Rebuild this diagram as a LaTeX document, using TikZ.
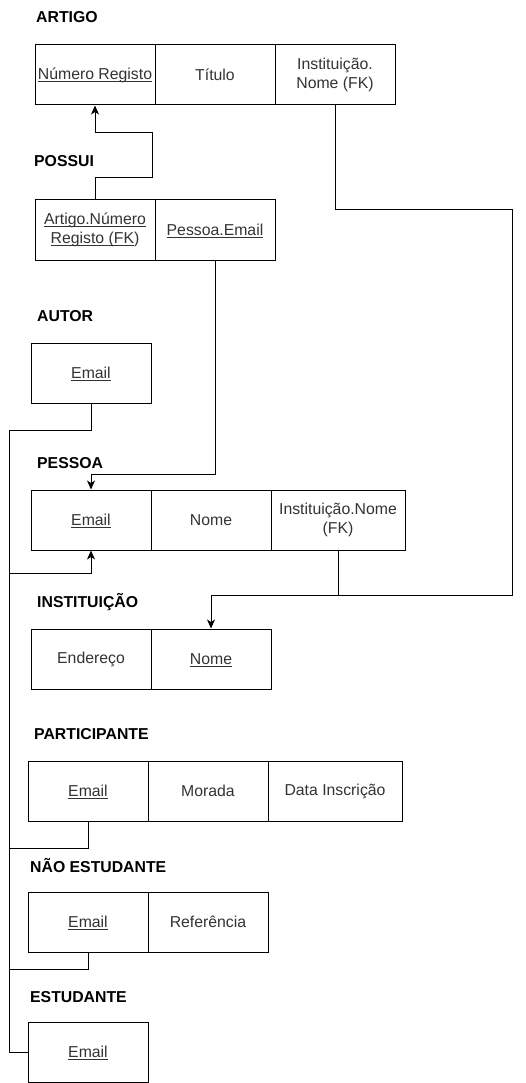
\documentclass[tikz,border=0pt]{standalone}
\usepackage{fontspec}
\setmainfont{Liberation Sans}
\usetikzlibrary{arrows.meta}
\definecolor{celltext}{HTML}{333333}
\newcommand{\myul}[1]{\setbox0=\hbox{#1}\rlap{\smash{\rule[-2.3pt]{\wd0}{0.9pt}}}\box0}
\tikzset{
  cell/.style={draw=black, line width=1pt, minimum height=60pt, minimum width=120pt,
    inner sep=0pt, align=center, text=celltext,
    font=\fontsize{15.8pt}{19.5pt}\selectfont},
  lbl/.style={anchor=base west, inner sep=0pt, font=\fontsize{15.8pt}{19pt}\selectfont\bfseries},
  conn/.style={draw=black, line width=1pt},
  arr/.style={conn, -{Stealth[length=9pt,width=8pt,inset=2.5pt]}}
}
\begin{document}
\begin{tikzpicture}[x=1pt,y=-1pt]
\useasboundingbox (0,0) rectangle (526,1083);
% labels
\node[lbl] (lA) at (36,23) {ARTIGO};
\node[lbl] (lP) at (34,167) {POSSUI};
\node[lbl] (lAu) at (37,321) {AUTOR};
\node[lbl] (lPe) at (37,468) {PESSOA};
\node[lbl] (lI) at (37,607) {INSTITUIÇÃO};
\node[lbl] (lPa) at (34,739) {PARTICIPANTE};
\node[lbl] (lN) at (30,872) {NÃO ESTUDANTE};
\node[lbl] (lE) at (30,1002) {ESTUDANTE};
% ARTIGO
\node[cell] (a1) at (95,75) {\myul{Número Registo}};
\node[cell] (a2) at (215,75) {Título};
\node[cell] (a3) at (335,75) {Instituição.\\Nome (FK)};
% POSSUI
\node[cell] (p1) at (95,230) {\myul{Artigo.Número}\\\myul{Registo (FK})};
\node[cell] (p2) at (215,230) {\myul{Pessoa.Email}};
% AUTOR
\node[cell] (au1) at (91,373) {\myul{Email}};
% PESSOA
\node[cell] (pe1) at (91,520) {\myul{Email}};
\node[cell] (pe2) at (211,520) {Nome};
\node[cell, minimum width=134pt] (pe3) at (338,520) {Instituição.Nome\\(FK)};
% INSTITUICAO
\node[cell] (i1) at (91,659) {Endereço};
\node[cell] (i2) at (211,659) {\myul{Nome}};
% PARTICIPANTE
\node[cell] (pa1) at (88,791) {\myul{Email}};
\node[cell] (pa2) at (208,791) {Morada};
\node[cell, minimum width=134pt] (pa3) at (335,791) {Data Inscrição};
% NAO ESTUDANTE
\node[cell] (n1) at (88,922) {\myul{Email}};
\node[cell] (n2) at (208,922) {Referência};
% ESTUDANTE
\node[cell] (e1) at (88,1052) {\myul{Email}};
% coordinates
\coordinate (c1) at (152,178);
\coordinate (c2) at (152,133);
\coordinate (c3) at (512,210);
\coordinate (c4) at (512,595);
\coordinate (c5) at (215,474);
\coordinate (b1) at (9,430);
\coordinate (b2) at (9,573);
\coordinate (b3) at (9,848);
\coordinate (b4) at (9,969);
\coordinate (b5) at (9,1052);
% connectors
\draw[arr] (p1.north) |- (c1) -- (c2) -| (a1.south);
\draw[arr] (a3.south) |- (c3) -- (c4) -| (i2.north);
\draw[conn] (pe3.south) -- (pe3.south |- c4);
\draw[arr] (p2.south) -- (c5) -| (pe1.north);
\draw[arr] (au1.south) |- (b1) -- (b2) -| (pe1.south);
\draw[conn] (pa1.south) |- (b3) -- (b2);
\draw[conn] (n1.south) |- (b4) -- (b3);
\draw[conn] (e1.west) -- (b5) -- (b4);
\end{tikzpicture}
\end{document}
